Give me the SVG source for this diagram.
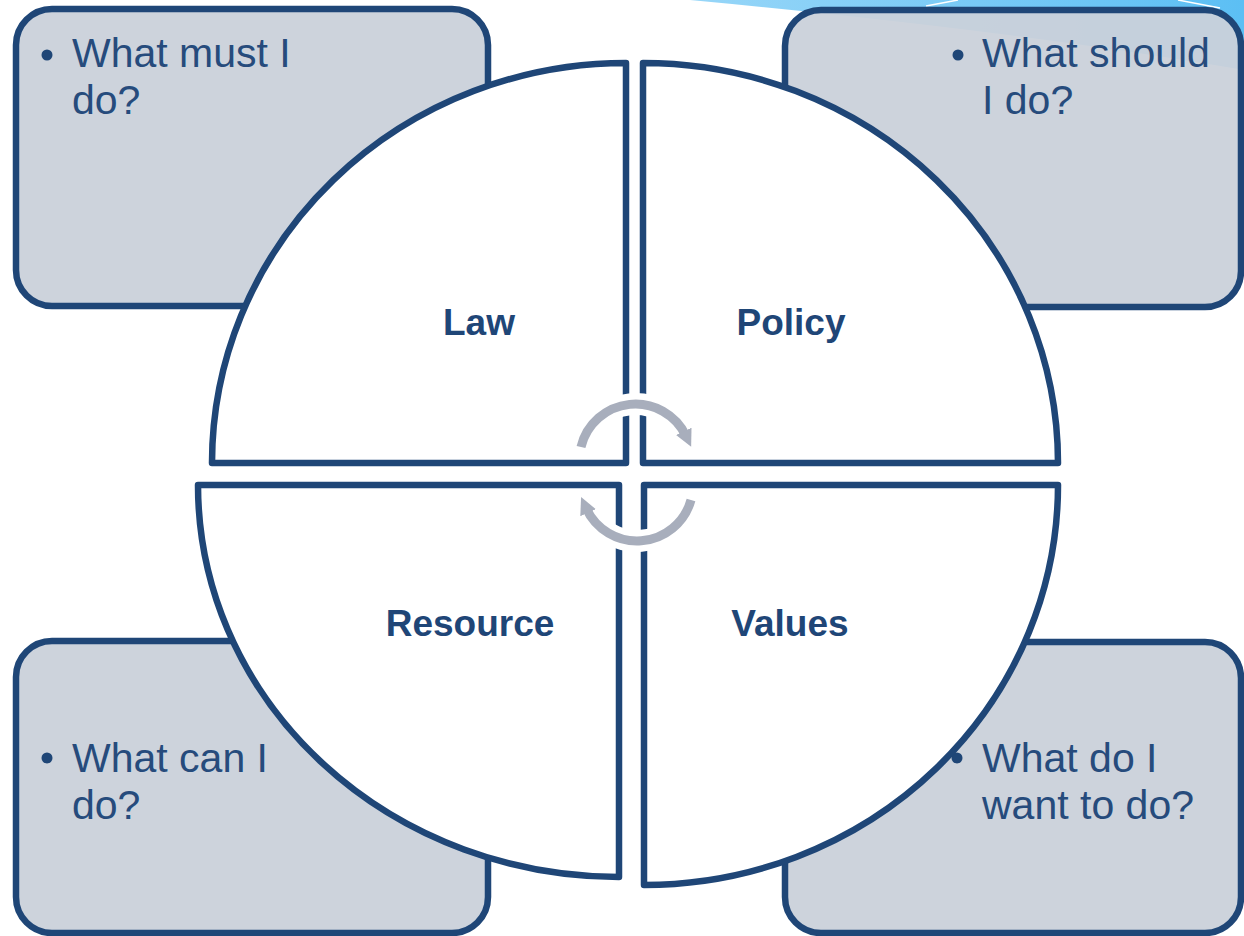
<svg xmlns="http://www.w3.org/2000/svg" width="1244" height="936" viewBox="0 0 1244 936">
<defs>
<linearGradient id="sw" x1="0" y1="0" x2="1" y2="0">
<stop offset="0" stop-color="#97D6F8"/>
<stop offset="1" stop-color="#5CBFF4"/>
</linearGradient>
<marker id="ah" viewBox="0 0 10 10" refX="3" refY="5" markerWidth="1.9" markerHeight="1.9" orient="auto" markerUnits="strokeWidth">
<path d="M0,0 L10,5 L0,10 Z" fill="#A8AEBC"/>
</marker>
<style>
.box{fill:#CAD1DA;fill-opacity:0.95;stroke:#1F4677;stroke-width:6.5}
.quad{fill:#FFFFFF;stroke:#1F4677;stroke-width:6.5;stroke-linejoin:round}
.q{font-family:"Liberation Sans",Arial,sans-serif;font-size:41px;fill:#264B7C}
.lbl{font-family:"Liberation Sans",Arial,sans-serif;font-size:37px;font-weight:bold;fill:#1F4677;text-anchor:middle}
.dot{fill:#1F4677}
.halo{fill:none;stroke:#FFFFFF;stroke-width:22}
.cyc{fill:none;stroke:#A8AEBC;stroke-width:9}
</style>
</defs>
<rect width="1244" height="936" fill="#FFFFFF"/>
<g id="swoosh">
<path d="M690,0 L1244,0 L1244,70 Q1010,30 690,0 Z" fill="url(#sw)"/>
<path d="M926,6 L958,0" stroke="#FFFFFF" stroke-width="1.5" fill="none"/>
<path d="M1178,0 L1220,8" stroke="#FFFFFF" stroke-width="1.5" fill="none"/>
</g>
<g id="box-must">
<rect class="box" x="16" y="9" width="472" height="297" rx="36"/>
<circle class="dot" cx="47" cy="55" r="5.5"/>
<text class="q" x="72" y="67">What must I</text>
<text class="q" x="72" y="114">do?</text>
</g>
<g id="box-should">
<rect class="box" x="785" y="10" width="456" height="297" rx="36"/>
<circle class="dot" cx="958" cy="55" r="5.5"/>
<text class="q" x="982" y="67">What should</text>
<text class="q" x="982" y="114">I do?</text>
</g>
<g id="box-can">
<rect class="box" x="16" y="641" width="472" height="292" rx="36"/>
<circle class="dot" cx="47" cy="758" r="5.5"/>
<text class="q" x="72" y="772">What can I</text>
<text class="q" x="72" y="819">do?</text>
</g>
<g id="box-want">
<rect class="box" x="785" y="642" width="456" height="291" rx="36"/>
<circle class="dot" cx="957" cy="758" r="5.5"/>
<text class="q" x="982" y="772">What do I</text>
<text class="q" x="982" y="819">want to do?</text>
</g>
<g id="quad-law">
<path class="quad" d="M626,463 H212 A414,400 0 0 1 626,63 Z"/>
<text class="lbl" x="479" y="335">Law</text>
</g>
<g id="quad-policy">
<path class="quad" d="M643,463 V63 A415,400 0 0 1 1058,463 Z"/>
<text class="lbl" x="791" y="335">Policy</text>
</g>
<g id="quad-resource">
<path class="quad" d="M619,485 H198 A421,392 0 0 0 619,877 Z"/>
<text class="lbl" x="470" y="636">Resource</text>
</g>
<g id="quad-values">
<path class="quad" d="M644,485 H1058 A414,400 0 0 1 644,885 Z"/>
<text class="lbl" x="790" y="636">Values</text>
</g>
<g id="connectors">
<path class="halo" d="M581,447 A56,56 0 0 1 686,436"/>
<path class="halo" d="M691,500 A56,56 0 0 1 586,508"/>
<path class="cyc" d="M581,447 A56,56 0 0 1 686,436" marker-end="url(#ah)"/>
<path class="cyc" d="M691,500 A56,56 0 0 1 586,508" marker-end="url(#ah)"/>
</g>
</svg>
